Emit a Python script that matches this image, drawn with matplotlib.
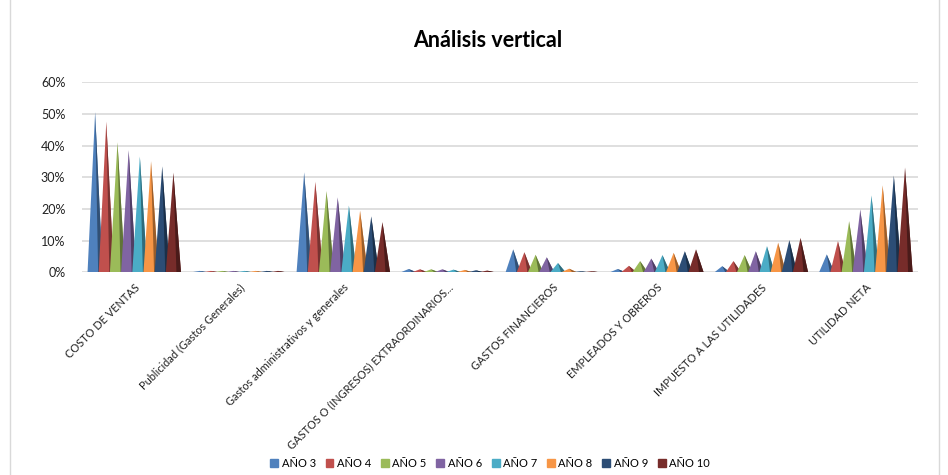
import numpy as np
import matplotlib.pyplot as plt
import matplotlib.colors as mcolors
from matplotlib.patches import Rectangle

categories = ['COSTO DE VENTAS', 'Publicidad (Gastos Generales)',
              'Gastos administrativos y generales',
              'GASTOS O (INGRESOS) EXTRAORDINARIOS...', 'GASTOS FINANCIEROS',
              'EMPLEADOS Y OBREROS', 'IMPUESTO A LAS UTILIDADES', 'UTILIDAD NETA']
series_names = ['AÑO 3', 'AÑO 4', 'AÑO 5', 'AÑO 6', 'AÑO 7', 'AÑO 8', 'AÑO 9', 'AÑO 10']

# values (fraction) per year, in category order
ano3 = [0.505, 0.004, 0.315, 0.010, 0.072, 0.010, 0.019, 0.056]
ano4 = [0.475, 0.004, 0.285, 0.009, 0.063, 0.020, 0.035, 0.098]
ano5 = [0.410, 0.004, 0.256, 0.009, 0.055, 0.035, 0.054, 0.161]
ano6 = [0.385, 0.004, 0.236, 0.009, 0.047, 0.043, 0.066, 0.198]
ano7 = [0.365, 0.004, 0.210, 0.008, 0.029, 0.054, 0.082, 0.242]
ano8 = [0.350, 0.004, 0.194, 0.007, 0.011, 0.061, 0.093, 0.274]
ano9 = [0.334, 0.004, 0.176, 0.006, 0.003, 0.066, 0.101, 0.305]
ano10 = [0.314, 0.004, 0.158, 0.005, 0.003, 0.072, 0.108, 0.330]
values = [ano3, ano4, ano5, ano6, ano7, ano8, ano9, ano10]

colors = ['#4F81BD', '#C0504D', '#9BBB59', '#8064A2',
          '#4BACC6', '#F79646', '#2C4D75', '#772C2A']

fig = plt.figure(figsize=(9.48, 4.75), dpi=100)
plt.rcParams['font.family'] = ['Lato', 'DejaVu Sans']
ax = fig.add_axes([0.0865, 0.427, 0.882, 0.40])

step = 0.107
width = 0.145
for s, vals in enumerate(values):
    c = np.array(mcolors.to_rgb(colors[s]))
    dark = c * 0.62
    for k, v in enumerate(vals):
        xc = k + (s - 3.5) * step
        ax.fill([xc - width / 2, xc, xc + width / 2], [0, v, 0], color=c, lw=0, zorder=3 + s)
        ax.fill([xc + width * 0.2, xc, xc + width / 2], [0, v, 0], color=dark, lw=0, zorder=3 + s)

ax.set_xlim(-0.5, len(categories) - 0.5)
ax.set_ylim(0, 0.6)
ax.set_yticks(np.arange(0, 0.61, 0.1))
ax.yaxis.set_major_formatter(plt.FuncFormatter(lambda y, pos: '{:.0f}%'.format(y * 100)))
ax.set_xticks(range(len(categories)))
ax.set_xticklabels(categories, rotation=45, ha='right', rotation_mode='anchor', fontsize=7.9)
ax.tick_params(axis='both', length=0, colors='#222222')
ax.tick_params(axis='y', labelsize=9, pad=12)
ax.tick_params(axis='x', pad=7)
ax.grid(axis='y', color='#D9D9D9', lw=1.2, zorder=0)
for sp in ax.spines.values():
    sp.set_visible(False)

fig.text(0.514, 0.915, 'Análisis vertical', ha='center', va='center', fontsize=15.5, fontweight='bold')

handles = [Rectangle((0, 0), 1, 1, color=c) for c in colors]
fig.legend(handles, series_names, loc='center', bbox_to_anchor=(0.517, 0.025), ncol=8,
           frameon=False, fontsize=8, handlelength=0.7, handleheight=0.7,
           handletextpad=0.3, columnspacing=0.9)

fig.patches.append(Rectangle((0.011, -0.01), 0.98, 1.02, transform=fig.transFigure,
                             fill=False, edgecolor='#D9D9D9', lw=1))

fig.savefig('out.png', dpi=100)
